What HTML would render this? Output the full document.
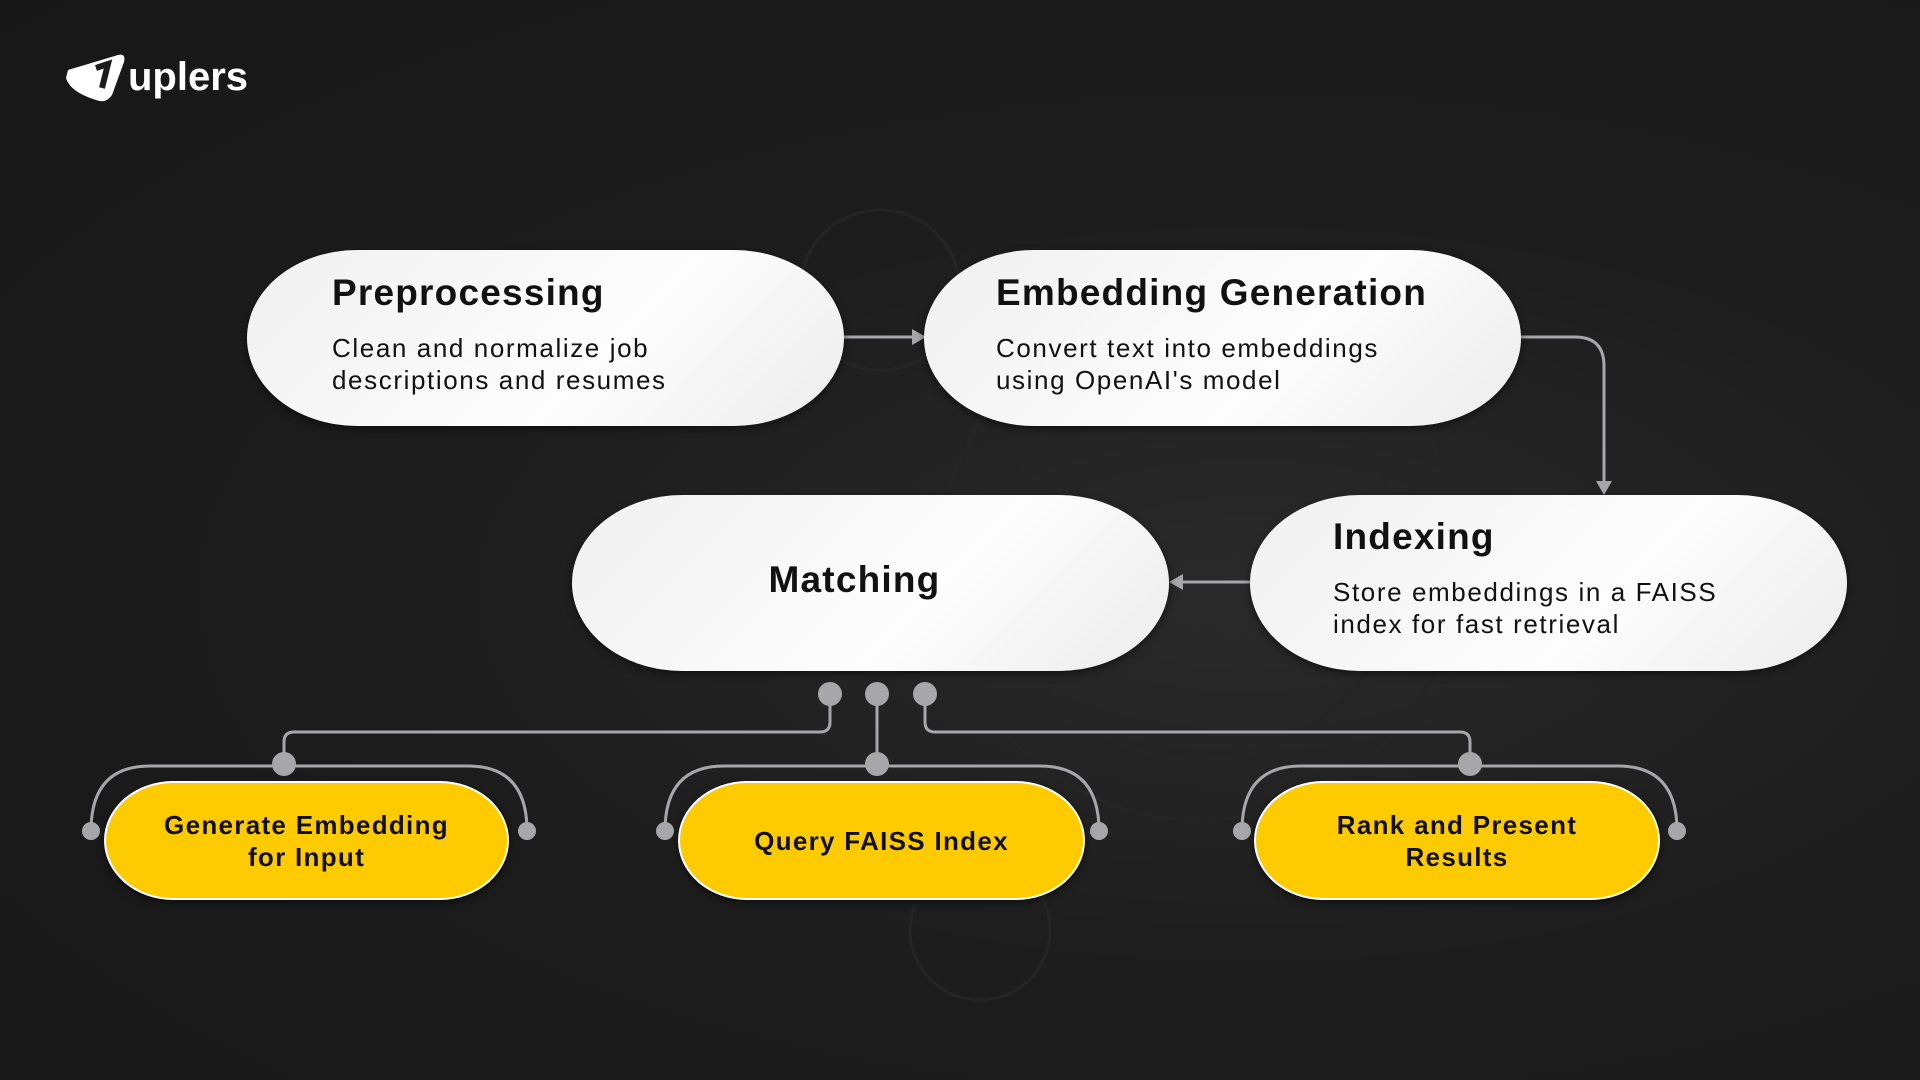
<!DOCTYPE html>
<html><head><meta charset="utf-8"><style>
body{margin:0;width:1920px;height:1080px;overflow:hidden;background:radial-gradient(ellipse at 65% 55%,#2a2a2a 0%,#1d1d1d 45%,#171717 100%);font-family:"Liberation Sans",sans-serif;position:relative}
.box{position:absolute;background:linear-gradient(135deg,#f0f0f0,#fdfdfd 60%,#ececec);border-radius:110px/88px;box-shadow:0 3px 8px rgba(0,0,0,.5)}
.t{position:absolute;font-size:37px;color:#111;font-weight:bold;letter-spacing:1.2px}
.d{position:absolute;font-size:26px;color:#111;line-height:32px;letter-spacing:1.6px}
.y{position:absolute;background:#fecb00;border-radius:70px/60px;border:2px solid #fff;box-sizing:border-box;display:flex;align-items:center;justify-content:center;text-align:center;font-weight:bold;font-size:26px;line-height:32px;letter-spacing:1.3px;color:#111;box-shadow:0 3px 8px rgba(0,0,0,.5)}
</style></head><body>
<svg width="1920" height="1080" style="position:absolute;left:0;top:0">
<g fill="none" stroke="#252525" stroke-width="3">
<circle cx="1200" cy="560" r="260"/><circle cx="1200" cy="560" r="200"/><circle cx="880" cy="290" r="80"/><circle cx="980" cy="930" r="70"/>
</g>
<g stroke="#a7a7ab" stroke-width="3" fill="none">
<line x1="844" y1="337" x2="915" y2="337"/>
<path d="M1521 337 H1575 Q1604 337 1604 366 V485"/>
<line x1="1250" y1="582" x2="1180" y2="582"/>
<path d="M830 694 V722 Q830 732 820 732 H294 Q284 732 284 742 V764"/>
<line x1="877" y1="694" x2="877" y2="764"/>
<path d="M925 694 V722 Q925 732 935 732 H1460 Q1470 732 1470 742 V764"/>
<path d="M91 831 Q91 766 150 766 H468 Q527 766 527 831"/>
<path d="M665 831 Q665 766 724 766 H1040 Q1099 766 1099 831"/>
<path d="M1242 831 Q1242 766 1301 766 H1618 Q1677 766 1677 831"/>
</g>
<g fill="#a7a7ab">
<polygon points="912,329 926,337 912,345"/><polygon points="1596,481 1612,481 1604,495"/><polygon points="1183,574 1169,582 1183,590"/>
<circle cx="830" cy="694" r="12"/><circle cx="877" cy="694" r="12"/><circle cx="925" cy="694" r="12"/>
<circle cx="284" cy="764" r="12"/><circle cx="877" cy="764" r="12"/><circle cx="1470" cy="764" r="12"/>
<circle cx="91" cy="831" r="9"/><circle cx="527" cy="831" r="9"/><circle cx="665" cy="831" r="9"/><circle cx="1099" cy="831" r="9"/><circle cx="1242" cy="831" r="9"/><circle cx="1677" cy="831" r="9"/>
</g>
<path d="M68 70 L118 55 Q126 53 124 62 L112 95 Q106 104 96 100 Q70 92 66 78 Z" fill="#fff"/>
<path d="M96 68 L108 64 L102 88" stroke="#1c1c1c" stroke-width="6" fill="none"/>
<text x="128" y="90" fill="#fff" font-family="Liberation Sans,sans-serif" font-weight="bold" font-size="40">uplers</text>
</svg>
<div class="box" style="left:247px;top:250px;width:597px;height:176px"></div>
<div class="t" style="left:332px;top:272px">Preprocessing</div>
<div class="d" style="left:332px;top:332px">Clean and normalize job<br>descriptions and resumes</div>
<div class="box" style="left:924px;top:250px;width:597px;height:176px"></div>
<div class="t" style="left:996px;top:272px">Embedding Generation</div>
<div class="d" style="left:996px;top:332px">Convert text into embeddings<br>using OpenAI's model</div>
<div class="box" style="left:572px;top:495px;width:597px;height:176px"></div>
<div class="t" style="left:572px;width:565px;text-align:center;top:559px">Matching</div>
<div class="box" style="left:1250px;top:495px;width:597px;height:176px"></div>
<div class="t" style="left:1333px;top:516px">Indexing</div>
<div class="d" style="left:1333px;top:576px">Store embeddings in a FAISS<br>index for fast retrieval</div>
<div class="y" style="left:104px;top:781px;width:405px;height:119px">Generate Embedding<br>for Input</div>
<div class="y" style="left:678px;top:781px;width:407px;height:119px">Query FAISS Index</div>
<div class="y" style="left:1254px;top:781px;width:406px;height:119px">Rank and Present<br>Results</div>
</body></html>
